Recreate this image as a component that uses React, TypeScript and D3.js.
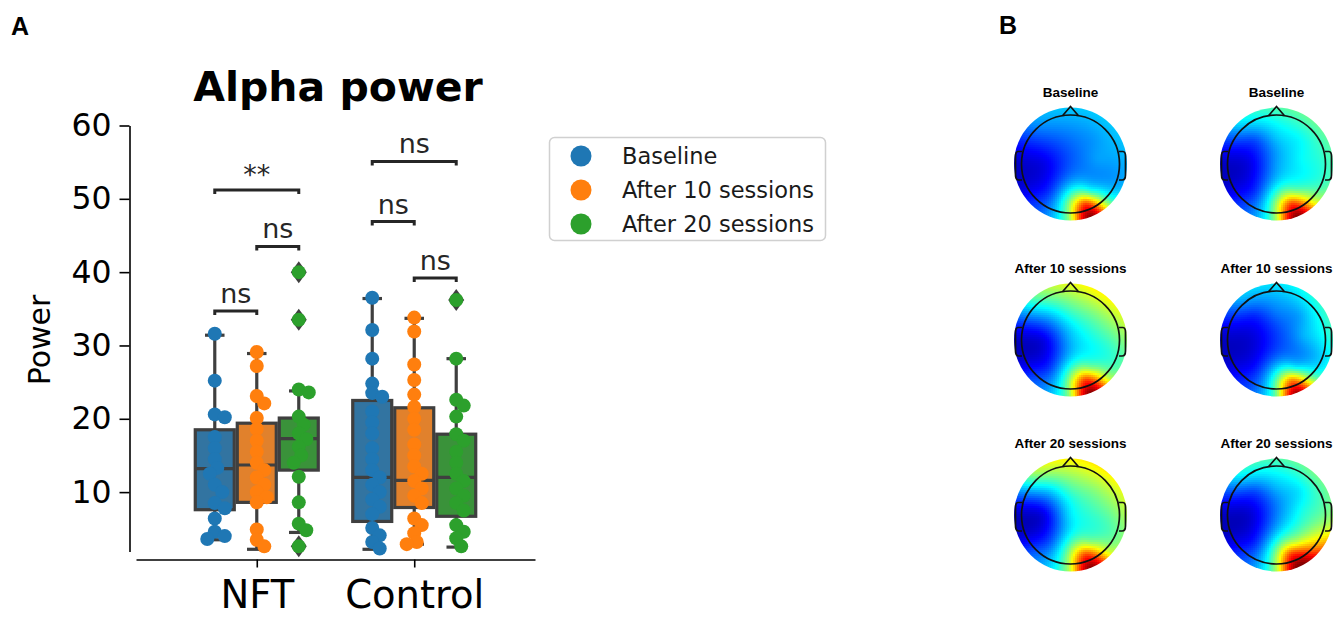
import React, { useRef, useEffect } from 'react';
import * as d3 from 'd3';

const groups = ['NFT', 'Control'];
const sessions = ['Baseline', 'After 10 sessions', 'After 20 sessions'];
const dotColors = ['#1f77b4', '#ff7f0e', '#2ca02c'];
const boxColors = ['#3274a1', '#e1812c', '#3a923a'];
const yTicks = [10, 20, 30, 40, 50, 60];

// [low whisker, q1, median, q3, high whisker] for each session
const nftBoxes = [
  [3.5, 7.6, 13.2, 18.5, 31.4],
  [2.2, 8.6, 13.7, 19.4, 28.9],
  [4.5, 13.0, 17.3, 20.1, 23.8],
];
const controlBoxes = [
  [2.2, 6.0, 12.0, 22.5, 36.4],
  [2.9, 7.9, 11.6, 21.5, 33.7],
  [2.5, 6.7, 12.0, 17.9, 28.2],
];
const nftFliers = [[], [], [40.0, 33.5, 2.6]];
const controlFliers = [[], [], [36.2]];

const nftBaseline = [31.6, 25.2, 20.6, 20.2, 17.5, 16.0, 14.5, 13.3, 12.5, 11.0, 10.0, 8.5, 7.8, 6.4, 4.6, 4.0, 3.6];
const nftAfter10 = [29.1, 27.2, 23.1, 22.1, 20.1, 18.6, 17.0, 15.5, 14.0, 13.0, 12.0, 11.0, 10.0, 9.3, 8.6, 4.9, 3.5, 2.6];
const nftAfter20 = [40.0, 33.5, 24.0, 23.6, 20.3, 19.2, 18.0, 17.2, 16.2, 15.0, 14.0, 12.1, 8.6, 5.7, 4.8, 2.6];
const controlBaseline = [36.5, 32.1, 28.2, 24.8, 23.5, 23.0, 21.0, 19.5, 18.0, 16.0, 14.5, 13.0, 12.0, 11.0, 10.0, 9.0, 8.0, 7.0, 5.1, 4.1, 3.2, 2.3];
const controlAfter10 = [33.8, 31.9, 27.4, 25.3, 23.3, 21.6, 20.0, 18.5, 16.5, 15.0, 13.5, 12.5, 11.5, 10.5, 9.5, 8.5, 6.4, 5.5, 4.4, 3.2, 2.9];
const controlAfter20 = [36.2, 28.2, 22.6, 21.8, 20.3, 17.9, 17.0, 15.5, 14.0, 12.5, 11.5, 10.5, 9.5, 8.5, 7.5, 5.5, 4.6, 3.7, 2.6];

// significance brackets
const bracketGroup = ['NFT', 'NFT', 'NFT', 'Control', 'Control', 'Control'];
const bracketFrom = [0, 1, 0, 0, 0, 1];
const bracketTo = [1, 2, 2, 1, 2, 2];
const bracketLevel = [34.7, 43.5, 51.2, 46.9, 55.1, 39.2];
const bracketText = ['ns', 'ns', '**', 'ns', 'ns', 'ns'];

// topomaps: anchor positions in head units (x right, y front)
const anchorPos = [
  [0, 1.15], [-0.75, 0.85], [0.75, 0.85], [-1.15, 0], [1.15, 0],
  [-0.8, -0.8], [0.8, -0.8], [0, -1.15], [0.4, -1.1], [0, 0.55],
  [-0.55, 0], [0, 0], [0.55, 0.1], [-0.45, -0.55], [0.4, -0.55],
  [-0.45, 0.5], [0.45, 0.5], [0.3, -0.8],
];
// values as fraction of the jet colour range, column 1 then column 2
const topoLeft = [
  [0.32, 0.27, 0.32, 0.07, 0.3, 0.17, 0.5, 0.55, 1.0, 0.24, 0.1, 0.21, 0.28, 0.17, 0.42, 0.2, 0.27, 0.8],
  [0.6, 0.45, 0.62, 0.07, 0.52, 0.2, 0.58, 0.55, 1.0, 0.42, 0.1, 0.3, 0.42, 0.17, 0.5, 0.3, 0.48, 0.8],
  [0.63, 0.52, 0.63, 0.07, 0.55, 0.22, 0.62, 0.58, 1.0, 0.45, 0.1, 0.35, 0.45, 0.2, 0.52, 0.32, 0.5, 0.8],
];
const topoRight = [
  [0.45, 0.35, 0.47, 0.07, 0.45, 0.17, 0.62, 0.55, 1.0, 0.32, 0.1, 0.28, 0.38, 0.17, 0.5, 0.2, 0.37, 0.8],
  [0.35, 0.3, 0.4, 0.07, 0.42, 0.15, 0.5, 0.5, 0.97, 0.24, 0.08, 0.18, 0.3, 0.14, 0.37, 0.16, 0.28, 0.72],
  [0.45, 0.38, 0.48, 0.07, 0.52, 0.17, 0.85, 0.55, 1.0, 0.3, 0.08, 0.25, 0.4, 0.16, 0.58, 0.2, 0.35, 0.82],
];
const topoTitles = ['Baseline', 'After 10 sessions', 'After 20 sessions'];

const clamp = (v: number) => Math.max(0, Math.min(1, v));
const jet = (t: number) => {
  t = clamp(t);
  const r = clamp(1.5 - Math.abs(4 * t - 3));
  const g = clamp(1.5 - Math.abs(4 * t - 2));
  const b = clamp(1.5 - Math.abs(4 * t - 1));
  return d3.rgb(r * 255, g * 255, b * 255).toString();
};

const solve = (A: number[][], b: number[]) => {
  const n = b.length;
  const M = A.map((row, i) => [...row, b[i]]);
  for (let c = 0; c < n; c++) {
    let p = c;
    for (let r = c + 1; r < n; r++) if (Math.abs(M[r][c]) > Math.abs(M[p][c])) p = r;
    [M[c], M[p]] = [M[p], M[c]];
    for (let r = 0; r < n; r++) {
      if (r === c) continue;
      const f = M[r][c] / M[c][c];
      for (let k = c; k <= n; k++) M[r][k] -= f * M[c][k];
    }
  }
  return M.map((row, i) => row[n] / row[i]);
};

// thin plate spline kernel
const tps = (d: number) => (d < 1e-9 ? 0 : d * d * Math.log(d));

const App = () => {
  const ref = useRef<SVGSVGElement>(null);

  useEffect(() => {
    const svg = d3.select(ref.current);
    svg.selectAll('*').remove();

    const font = 'DejaVu Sans, sans-serif';
    const lineColor = '#3f3f3f';

    const y = d3.scaleLinear().domain([1.9, 60]).range([551.5, 125.5]);
    const x = d3.scalePoint().domain(groups).range([136, 535]).padding(0.767);
    const hue = d3.scaleBand().domain(sessions).range([-63, 63]);
    const bw = hue.bandwidth() - 3;
    const hx = (g: string, i: number) => (x(g) as number) + (hue(sessions[i]) as number) + hue.bandwidth() / 2;

    // panel labels
    svg.append('text').attr('x', 11).attr('y', 35).text('A')
      .attr('font-family', 'Liberation Sans, Arial, sans-serif').attr('font-weight', 'bold').attr('font-size', 25);
    svg.append('text').attr('x', 999).attr('y', 34).text('B')
      .attr('font-family', 'Liberation Sans, Arial, sans-serif').attr('font-weight', 'bold').attr('font-size', 25);

    // title
    svg.append('text').attr('x', 338).attr('y', 101).attr('text-anchor', 'middle')
      .attr('font-family', font).attr('font-weight', 'bold').attr('font-size', 41).text('Alpha power');

    // axes
    const yAxis = svg.append('g').attr('transform', 'translate(129.5,0)')
      .call(d3.axisLeft(y).tickValues(yTicks).tickSize(10).tickSizeOuter(0).tickPadding(8));
    yAxis.selectAll('path, line').attr('stroke', '#000').attr('stroke-width', 1.6);
    yAxis.selectAll('text').attr('font-family', font).attr('font-size', 31.5).attr('fill', '#000');

    const xAxis = svg.append('g').attr('transform', 'translate(0,559.5)')
      .call(d3.axisBottom(x).tickSize(8).tickSizeOuter(0).tickPadding(13));
    xAxis.selectAll('path, line').attr('stroke', '#000').attr('stroke-width', 1.6);
    xAxis.selectAll('text').attr('font-family', font).attr('font-size', 38.5).attr('fill', '#000');

    svg.append('text').attr('transform', 'translate(50,340) rotate(-90)').attr('text-anchor', 'middle')
      .attr('font-family', font).attr('font-size', 30).text('Power');

    // boxes
    const boxData = [
      { g: 'NFT', boxes: nftBoxes, fliers: nftFliers, pts: [nftBaseline, nftAfter10, nftAfter20] },
      { g: 'Control', boxes: controlBoxes, fliers: controlFliers, pts: [controlBaseline, controlAfter10, controlAfter20] },
    ];
    const plot = svg.append('g');
    boxData.forEach(grp => {
      grp.boxes.forEach((b, i) => {
        const cx = hx(grp.g, i);
        const [lo, q1, med, q3, hi] = b;
        const bg = plot.append('g');
        bg.append('line').attr('x1', cx).attr('x2', cx).attr('y1', y(hi)).attr('y2', y(q3));
        bg.append('line').attr('x1', cx).attr('x2', cx).attr('y1', y(q1)).attr('y2', y(lo));
        bg.append('line').attr('x1', cx - bw / 4).attr('x2', cx + bw / 4).attr('y1', y(hi)).attr('y2', y(hi));
        bg.append('line').attr('x1', cx - bw / 4).attr('x2', cx + bw / 4).attr('y1', y(lo)).attr('y2', y(lo));
        bg.append('rect').attr('x', cx - bw / 2).attr('width', bw).attr('y', y(q3)).attr('height', y(q1) - y(q3))
          .attr('fill', boxColors[i]);
        bg.append('line').attr('x1', cx - bw / 2).attr('x2', cx + bw / 2).attr('y1', y(med)).attr('y2', y(med));
        bg.selectAll('line, rect').attr('stroke', lineColor).attr('stroke-width', 3.2);
        grp.fliers[i].forEach(f => {
          bg.append('path').attr('d', `M${cx},${y(f) - 11}L${cx + 8},${y(f)}L${cx},${y(f) + 11}L${cx - 8},${y(f)}Z`)
            .attr('fill', lineColor);
        });
      });
    });

    // points with a small swarm-like spread
    const r = 7;
    boxData.forEach(grp => {
      grp.pts.forEach((vals, i) => {
        const cx = hx(grp.g, i);
        const placed: { x: number; y: number }[] = [];
        const sorted = [...vals].sort((a, b) => b - a);
        sorted.forEach(v => {
          const py = y(v);
          const offs = [0, 2.5, -2.5, 5, -5, 7.5, -7.5, 10, -10];
          let best = 0;
          let bestD = -1;
          for (const o of offs) {
            const dmin = placed.length ? d3.min(placed, q => Math.hypot(q.x - (cx + o), q.y - py)) as number : 99;
            if (dmin >= r * 1.3) { best = o; break; }
            if (dmin > bestD) { bestD = dmin; best = o; }
          }
          placed.push({ x: cx + best, y: py });
        });
        plot.append('g').selectAll('circle').data(placed).enter().append('circle')
          .attr('cx', d => d.x).attr('cy', d => d.y).attr('r', r).attr('fill', dotColors[i]);
      });
    });

    // brackets
    bracketText.forEach((t, k) => {
      const x1 = hx(bracketGroup[k], bracketFrom[k]);
      const x2 = hx(bracketGroup[k], bracketTo[k]);
      const by = y(bracketLevel[k]);
      svg.append('path').attr('d', `M${x1},${by + 4}L${x1},${by}L${x2},${by}L${x2},${by + 4}`)
        .attr('fill', 'none').attr('stroke', '#262626').attr('stroke-width', 3);
      svg.append('text').attr('x', (x1 + x2) / 2).attr('y', t === '**' ? by - 6 : by - 8).attr('text-anchor', 'middle')
        .attr('font-family', font).attr('font-size', 27).attr('fill', '#262626').text(t);
    });

    // legend
    const leg = svg.append('g');
    leg.append('rect').attr('x', 549.5).attr('y', 137.5).attr('width', 276).attr('height', 103).attr('rx', 5)
      .attr('fill', '#fff').attr('stroke', '#d0d0d0').attr('stroke-width', 1.5);
    sessions.forEach((s, i) => {
      const ly = 156 + i * 34;
      leg.append('circle').attr('cx', 581).attr('cy', ly).attr('r', 10.5).attr('fill', dotColors[i]);
      leg.append('text').attr('x', 622).attr('y', ly).attr('dy', '0.35em').attr('font-family', font)
        .attr('font-size', 22.5).attr('fill', '#1a1a1a').text(s);
    });

    // topomaps (thin plate spline through the anchor values)
    const colX = [1070.5, 1276.5];
    const rowY = [164, 340, 515];
    const headR = 49;
    const diskR = 56.5;
    const n = anchorPos.length;
    const A = Array.from({ length: n + 3 }, (_, i) => Array.from({ length: n + 3 }, (_, j) => {
      if (i < n && j < n) return tps(Math.hypot(anchorPos[i][0] - anchorPos[j][0], anchorPos[i][1] - anchorPos[j][1]));
      if (i < n) return [1, anchorPos[i][0], anchorPos[i][1]][j - n];
      if (j < n) return [1, anchorPos[j][0], anchorPos[j][1]][i - n];
      return 0;
    }));
    const defs = svg.append('defs');
    [topoLeft, topoRight].forEach((maps, c) => {
      maps.forEach((vals, rI) => {
        const cx = colX[c];
        const cy = rowY[rI];
        const coef = solve(A, [...vals, 0, 0, 0]);
        const id = `clip-${c}-${rI}`;
        defs.append('clipPath').attr('id', id).append('circle').attr('cx', cx).attr('cy', cy).attr('r', diskR);
        const cells: { x: number; y: number; c: string }[] = [];
        const step = 2;
        for (let dy = -diskR - 1; dy <= diskR + 1; dy += step) {
          for (let dx = -diskR - 1; dx <= diskR + 1; dx += step) {
            const mx = dx + step / 2;
            const my = dy + step / 2;
            if (Math.hypot(mx, my) > diskR + 2) continue;
            const u = mx / headR;
            const v = -my / headR;
            let t = coef[n] + coef[n + 1] * u + coef[n + 2] * v;
            anchorPos.forEach((p, k) => { t += coef[k] * tps(Math.hypot(u - p[0], v - p[1])); });
            cells.push({ x: cx + dx, y: cy + dy, c: jet(t) });
          }
        }
        const mg = svg.append('g').attr('clip-path', `url(#${id})`);
        mg.selectAll('rect').data(cells).enter().append('rect')
          .attr('x', d => d.x).attr('y', d => d.y).attr('width', step + 0.4).attr('height', step + 0.4)
          .attr('fill', d => d.c).attr('shape-rendering', 'crispEdges');
        const head = svg.append('g').attr('transform', `translate(${cx},${cy})`)
          .attr('fill', 'none').attr('stroke', '#111').attr('stroke-width', 1.7);
        head.append('circle').attr('r', headR);
        head.append('path').attr('d', 'M-8,-48.3L0,-57.5L8,-48.3');
        head.append('path').attr('d', 'M-48.5,-12.5L-52.5,-12.5Q-55,-12 -55,-8L-55,11Q-55,16 -51.5,16L-48.5,16');
        head.append('path').attr('d', 'M48.5,-12.5L52.5,-12.5Q55,-12 55,-8L55,11Q55,16 51.5,16L48.5,16');
        svg.append('text').attr('x', cx).attr('y', cy - 67.5).attr('text-anchor', 'middle')
          .attr('font-family', 'Liberation Sans, Arial, sans-serif').attr('font-weight', 'bold')
          .attr('font-size', 13.5).text(topoTitles[rI]);
      });
    });
  }, []);

  return (
    <svg ref={ref} width={1340} height={617}
      style={{ position: 'absolute', left: 0, top: 0, background: '#fff' }} />
  );
};

export default App;
